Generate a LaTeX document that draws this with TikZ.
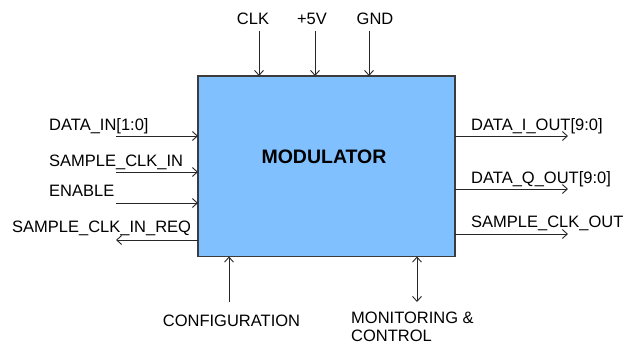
\documentclass[tikz,border=0pt]{standalone}
\usepackage{fontspec}
\setmainfont{Liberation Sans}
\usepackage{xcolor}
\usetikzlibrary{arrows.meta,positioning,calc}
\definecolor{modblue}{RGB}{128,192,255}
\definecolor{edgegray}{RGB}{60,60,60}

\begin{document}
\begin{tikzpicture}[
      x=1pt, y=-1pt,
      modbox/.style={rectangle, draw=edgegray, line width=1.1pt, fill=modblue, minimum width=257pt, minimum height=180.5pt, inner sep=0pt, outer sep=0pt},
      title/.style={font=\fontsize{19.5}{22}\selectfont\bfseries, inner sep=0pt},
      sig/.style={font=\fontsize{16.5}{20}\selectfont, inner sep=0pt, anchor=base west},
      arr/.style={-{Straight Barb[length=5pt,width=9pt]}, line width=0.9pt, draw=black!85},
      biarr/.style={{Straight Barb[length=5pt,width=9pt]}-{Straight Barb[length=5pt,width=9pt]}, line width=0.9pt, draw=black!85}
    ]
      \useasboundingbox (0,0) rectangle (634,345);

      % the modulator block
      \node[modbox] (mod) at (326.5,166.25) {};
      \node[title] (modlbl) at (324,157) {MODULATOR};

      % supply and clock
      \node[sig, anchor=base] (clk) at (253,25) {CLK};
      \node[sig, anchor=base] (vcc) at (312,25) {+5V};
      \node[sig, anchor=base] (gnd) at (375,25) {GND};
      \coordinate (clkin) at (259,31);
      \coordinate (vccin) at (315,31);
      \coordinate (gndin) at (369,31);
      \draw[arr] (clkin) -- (clkin |- mod.north);
      \draw[arr] (vccin) -- (vccin |- mod.north);
      \draw[arr] (gndin) -- (gndin |- mod.north);

      % inputs
      \node[sig] (din) at (49,130.5) {DATA\_IN[1:0]};
      \node[sig] (sclkin) at (49,166) {SAMPLE\_CLK\_IN};
      \node[sig] (enable) at (49,196) {ENABLE};
      \node[sig] (sclkreq) at (12,232) {SAMPLE\_CLK\_IN\_REQ};
      \coordinate (dina) at (116,136);
      \coordinate (sclkina) at (116,172);
      \coordinate (enablea) at (116,203);
      \coordinate (sclkreqa) at (116,240);
      \draw[arr] (dina) -- (dina -| mod.west);
      \draw[arr] (sclkina) -- (sclkina -| mod.west);
      \draw[arr] (enablea) -- (enablea -| mod.west);
      \draw[arr] (sclkreqa -| mod.west) -- (sclkreqa);

      % outputs
      \node[sig] (dout) at (471,130) {DATA\_I\_OUT[9:0]};
      \node[sig] (qout) at (471,183) {DATA\_Q\_OUT[9:0]};
      \node[sig] (sclkout) at (471,227) {SAMPLE\_CLK\_OUT};
      \coordinate (douta) at (568,136);
      \coordinate (qouta) at (568,189);
      \coordinate (sclkouta) at (568,234);
      \draw[arr] (douta -| mod.east) -- (douta);
      \draw[arr] (qouta -| mod.east) -- (qouta);
      \draw[arr] (sclkouta -| mod.east) -- (sclkouta);

      % configuration and monitoring
      \node[sig, anchor=base] (config) at (231.5,326) {CONFIGURATION};
      \node[sig, font=\fontsize{16.5}{18}\selectfont, align=left, anchor=north west] (monitor) at (351,311.5) {MONITORING \&\\CONTROL};
      \coordinate (configa) at (229,302);
      \coordinate (monitora) at (417,302);
      \draw[arr] (configa) -- (configa |- mod.south);
      \draw[biarr] (monitora) -- (monitora |- mod.south);
    \end{tikzpicture}
\end{document}
